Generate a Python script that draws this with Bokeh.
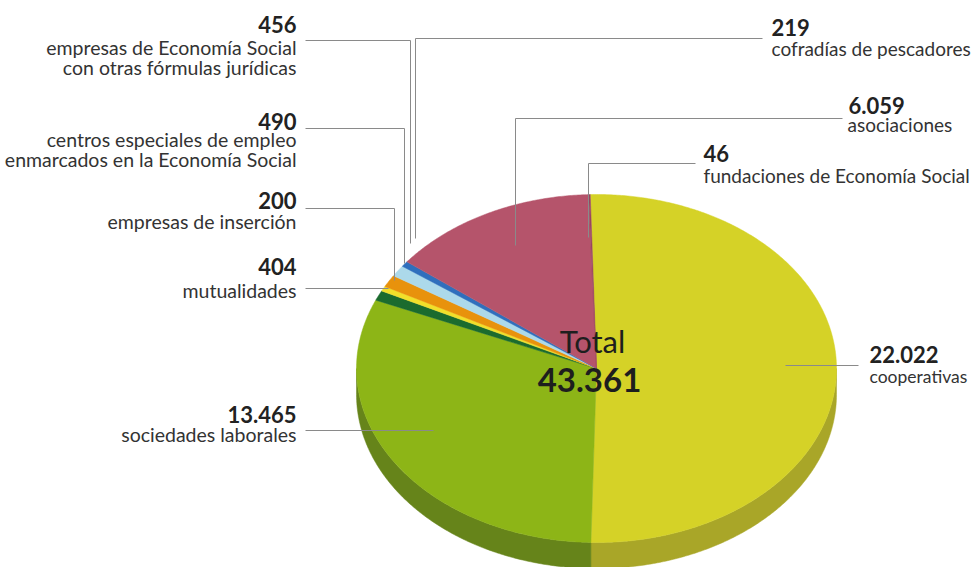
import math
from bokeh.plotting import figure
from bokeh.models import Range1d
from bokeh.core.properties import value
from bokeh.embed import file_html
from bokeh.resources import INLINE

# ---- data (clockwise from 12 o'clock) ----
categories = ["cooperativas", "sociedades laborales", "mutualidades",
              "empresas de inserción",
              "centros especiales de empleo enmarcados en la Economía Social",
              "empresas de Economía Social con otras fórmulas jurídicas",
              "cofradías de pescadores", "asociaciones",
              "fundaciones de Economía Social"]
values = [22022, 13465, 404, 200, 490, 456, 219, 6059, 46]
value_labels = ["22.022", "13.465", "404", "200", "490", "456", "219", "6.059", "46"]
total_label = "43.361"
top_colors = ["#d5d227", "#8db517", "#1b6b2e", "#f1df2a", "#e8920c",
              "#acd9ea", "#2f6fbd", "#b5546b", "#9a4660"]
side_colors = ["#a9a628", "#66841a", "#14501f", "#bfae1e", "#b06e08",
               "#7fa9b8", "#1f4f8c", "#86394d", "#6f2f44"]

# ---- geometry (pixel space) ----
W, H = 973, 567
cx, cy, a, b, depth = 596, 368, 240, 174, 26
start_offset = -1.5

p = figure(width=W, height=H, output_backend="svg", toolbar_location=None,
           x_range=Range1d(0, W), y_range=Range1d(H, 0), min_border=0)
p.axis.visible = False
p.grid.visible = False
p.outline_line_color = None
p.background_fill_color = "white"
p.border_fill_color = "white"


def pt(theta_deg, dy=0.0):
    t = math.radians(theta_deg)
    return cx + a * math.sin(t), cy - b * math.cos(t) + dy


total = sum(values)
angles = []
acc = 0.0
for v in values:
    start = acc / total * 360.0 + start_offset
    acc += v
    end = acc / total * 360.0 + start_offset
    angles.append((start, end))

# sides (visible lower half: 90..270 deg clockwise from top)
side_xs, side_ys, side_c = [], [], []
for (s, e), c in zip(angles, side_colors):
    lo, hi = max(s, 90.0), min(e, 270.0)
    if hi <= lo:
        continue
    n = max(4, int((hi - lo) * 2))
    ts = [lo + (hi - lo) * i / n for i in range(n + 1)]
    top = [pt(t) for t in ts]
    bot = [pt(t, depth) for t in reversed(ts)]
    side_xs.append([q[0] for q in top + bot])
    side_ys.append([q[1] for q in top + bot])
    side_c.append(c)
p.patches(side_xs, side_ys, fill_color=side_c, line_color=side_c, line_width=0.5)

# top faces
xs, ys = [], []
for (s, e) in angles:
    n = max(3, int((e - s) * 2))
    ts = [s + (e - s) * i / n for i in range(n + 1)]
    pts = [(cx, cy)] + [pt(t) for t in ts]
    xs.append([q[0] for q in pts])
    ys.append([q[1] for q in pts])
p.patches(xs, ys, fill_color=top_colors, line_color=top_colors, line_width=0.5)

# ---- leader lines ----
lead_xs = [
    [305, 410, 410],     # 456
    [762, 415, 415],     # 219
    [305, 404, 404],     # 490
    [305, 394, 394],     # 200
    [305, 388],          # 404
    [305, 433],          # 13.465
    [842, 515, 515],     # 6.059
    [695, 588, 588],     # 46
    [785, 858],          # 22.022
]
lead_ys = [
    [40, 40, 243],
    [38, 38, 238],
    [128, 128, 263],
    [208, 208, 280],
    [288, 288],
    [430, 430],
    [118, 118, 245],
    [163, 163, 237],
    [365, 365],
]
p.multi_line(lead_xs, lead_ys, line_color="#8a8a8a", line_width=1)

FONT = "Lato"
NUM_SIZE = "22px"
DESC_SIZE = "19px"
# left labels (right aligned)
num_left = ["456", "490", "200", "404", "13.465"]
num_left_y = [24, 121, 200, 266, 414]
desc_left = ["empresas de Economía Social", "con otras fórmulas jurídicas",
             "centros especiales de empleo", "enmarcados en la Economía Social",
             "empresas de inserción", "mutualidades", "sociedades laborales"]
desc_left_y = [47, 67, 139, 159, 221, 290, 434]
p.text(x=[296] * len(num_left), y=num_left_y, text=num_left, text_align="right",
       text_baseline="middle", text_font=value(FONT), text_font_style="bold",
       text_font_size=NUM_SIZE, text_color="#222222")
p.text(x=[296] * len(desc_left), y=desc_left_y, text=desc_left, text_align="right",
       text_baseline="middle", text_font=value(FONT),
       text_font_size="19.5px", text_color="#333333")

# right labels (left aligned)
num_right = ["219", "6.059", "46", "22.022"]
num_right_x = [771, 848, 703, 869]
num_right_y = [27, 105, 153, 354]
desc_right = ["cofradías de pescadores", "asociaciones",
              "fundaciones de Economía Social"]
desc_right_x = [771, 847, 703]
desc_right_y = [48, 124, 175]
p.text(x=num_right_x, y=num_right_y, text=num_right, text_align="left",
       text_baseline="middle", text_font=value(FONT), text_font_style="bold",
       text_font_size=NUM_SIZE, text_color="#222222")
p.text(x=desc_right_x, y=desc_right_y, text=desc_right, text_align="left",
       text_baseline="middle", text_font=value(FONT),
       text_font_size=DESC_SIZE, text_color="#333333")
p.text(x=[869], y=[376], text=["cooperativas"], text_align="left",
       text_baseline="middle", text_font=value(FONT),
       text_font_size="17.5px", text_color="#333333")

# center total
p.text(x=[592], y=[340], text=["Total"], text_align="center", text_baseline="middle",
       text_font=value(FONT), text_font_size="31px", text_color="#1e1e1e")
p.text(x=[589], y=[379], text=[total_label], text_align="center", text_baseline="middle",
       text_font=value(FONT), text_font_style="bold", text_font_size="33px",
       text_color="#1e1e1e")

open("out.html", "w").write(file_html(p, INLINE))
